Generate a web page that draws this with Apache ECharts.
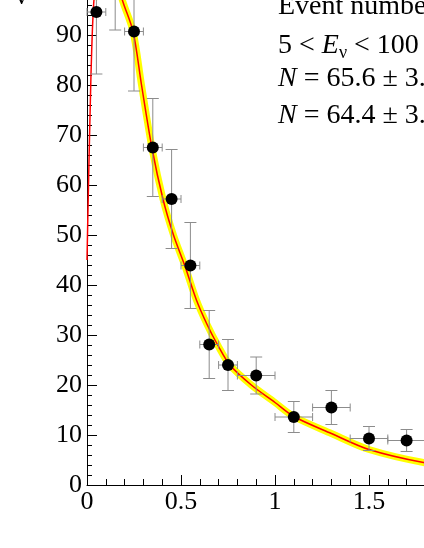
<!DOCTYPE html>
<html>
<head>
<meta charset="utf-8">
<script src="https://cdn.jsdelivr.net/npm/echarts@6/dist/echarts.min.js"></script>
<style>
  html, body { margin: 0; padding: 0; background: #fff; }
  #chart { width: 424px; height: 548px; }
</style>
</head>
<body>
<div id="chart"></div>
<script>
// measured points (bin centre, half bin width, value, error)
var xCenters = [0.05, 0.15, 0.25, 0.35, 0.45, 0.55, 0.65, 0.75, 0.9, 1.1, 1.3, 1.5, 1.7];
var xHalfWidths = [0.05, 0.05, 0.05, 0.05, 0.05, 0.05, 0.05, 0.05, 0.1, 0.1, 0.1, 0.1, 0.1];
var yValues = [94.6, 105, 90.7, 67.5, 57.2, 43.9, 28.1, 24.0, 21.9, 13.6, 15.5, 9.3, 8.9];
var yErrors = [12.4, 14, 11.9, 9.8, 9.9, 8.6, 6.8, 5.1, 3.7, 3.1, 3.4, 2.4, 2.2];

// fitted curve
var fitX = [0, 0.009, 0.018, 0.025, 0.037, 0.06, 0.1, 0.14, 0.188, 0.245, 0.29, 0.346, 0.404, 0.46, 0.52, 0.582, 0.64, 0.695, 0.76, 0.874, 1.0, 1.1, 1.3, 1.5, 1.79, 2.0];
var fitY = [45, 62, 77, 87, 97, 104, 107, 104, 97, 90.7, 80, 67.3, 57.2, 50, 43.9, 37, 32, 28, 24, 20, 16.5, 13.7, 10.3, 7.1, 4.5, 3.6];

var FONT = 'Liberation Serif';

var points = [];
for (var i = 0; i < xCenters.length; i++) {
  points.push([xCenters[i], yValues[i], xHalfWidths[i], yErrors[i]]);
}
var fitLine = [], bandLine = [];
for (var j = 0; j < fitX.length; j++) {
  fitLine.push([fitX[j], fitY[j]]);
  if (j >= 4) bandLine.push([fitX[j], fitY[j]]);
}

function renderErrorBar(params, api) {
  var x = api.value(0), y = api.value(1), dx = api.value(2), dy = api.value(3);
  var c = api.coord([x, y]);
  var l = api.coord([x - dx, y]);
  var r = api.coord([x + dx, y]);
  var t = api.coord([x, y + dy]);
  var b = api.coord([x, y - dy]);
  var cap = 6, vcap = 4;
  var st = { stroke: '#8c8c8c', lineWidth: 1, fill: null };
  return {
    type: 'group',
    children: [
      { type: 'line', shape: { x1: l[0], y1: c[1], x2: r[0], y2: c[1] }, style: st },
      { type: 'line', shape: { x1: c[0], y1: t[1], x2: c[0], y2: b[1] }, style: st },
      { type: 'line', shape: { x1: c[0] - cap, y1: t[1], x2: c[0] + cap, y2: t[1] }, style: st },
      { type: 'line', shape: { x1: c[0] - cap, y1: b[1], x2: c[0] + cap, y2: b[1] }, style: st },
      { type: 'line', shape: { x1: l[0], y1: c[1] - vcap, x2: l[0], y2: c[1] + vcap }, style: st },
      { type: 'line', shape: { x1: r[0], y1: c[1] - vcap, x2: r[0], y2: c[1] + vcap }, style: st }
    ]
  };
}

var textRich = {
  n: { fontFamily: FONT, fontSize: 28, color: '#000' },
  i: { fontFamily: FONT, fontSize: 28, fontStyle: 'italic', color: '#000' },
  s: { fontFamily: FONT, fontSize: 18, color: '#000', padding: [14, 0, 0, 0] }
};

var myChart = echarts.init(document.getElementById('chart'));
var option = {
  animation: false,
  backgroundColor: '#fff',
  grid: { left: 87, right: -39, top: -115, bottom: 63, containLabel: false, outerBoundsMode: 'none' },
  xAxis: {
    type: 'value',
    min: 0, max: 2, interval: 0.5,
    axisLine: { lineStyle: { color: '#000', width: 1 } },
    axisTick: { inside: true, length: 10, lineStyle: { color: '#000' } },
    minorTick: { show: true, splitNumber: 5, length: 6, lineStyle: { color: '#000' } },
    axisLabel: { fontFamily: FONT, fontSize: 26, color: '#000', margin: 4 },
    splitLine: { show: false }
  },
  yAxis: {
    type: 'value',
    min: 0, max: 120, interval: 10,
    axisLine: { show: true, lineStyle: { color: '#000', width: 1 } },
    axisTick: { show: true, inside: true, length: 10, lineStyle: { color: '#000' } },
    minorTick: { show: true, splitNumber: 5, length: 5, lineStyle: { color: '#000' } },
    axisLabel: { fontFamily: FONT, fontSize: 26, color: '#000', margin: 5 },
    splitLine: { show: false }
  },
  graphic: [
    { type: 'text', x: 15, y: 10, style: { text: 'v', font: '26px "Liberation Serif"', fill: '#000', verticalAlign: 'bottom' } },
    { type: 'text', x: 278, y: 7, style: { text: 'Event number', font: '28px "Liberation Serif"', fill: '#000', verticalAlign: 'middle' } },
    { type: 'text', x: 278, y: 46, style: { text: '{n|5 < }{i|E}{s|ν}{n| < 100 GeV}', verticalAlign: 'middle', rich: textRich } },
    { type: 'text', x: 278, y: 79, style: { text: '{i|N}{n| = 65.6 ± 3.2}', verticalAlign: 'middle', rich: textRich } },
    { type: 'text', x: 278, y: 116, style: { text: '{i|N}{n| = 64.4 ± 3.2}', verticalAlign: 'middle', rich: textRich } }
  ],
  series: [
    {
      type: 'line',
      data: bandLine,
      smooth: 0.3,
      showSymbol: false,
      lineStyle: { color: '#ffff00', width: 7 },
      z: 1
    },
    {
      type: 'line',
      data: fitLine,
      smooth: 0.3,
      showSymbol: false,
      lineStyle: { color: '#ff0000', width: 1.5 },
      z: 2
    },
    {
      type: 'custom',
      data: points,
      renderItem: renderErrorBar,
      z: 3
    },
    {
      type: 'scatter',
      data: points,
      symbolSize: 12,
      itemStyle: { color: '#000', opacity: 1 },
      z: 4
    }
  ]
};
myChart.setOption(option);
window.addEventListener('resize', function () {
  setTimeout(function () {
    myChart.resize();
  }, 0);
});
</script>
</body>
</html>
